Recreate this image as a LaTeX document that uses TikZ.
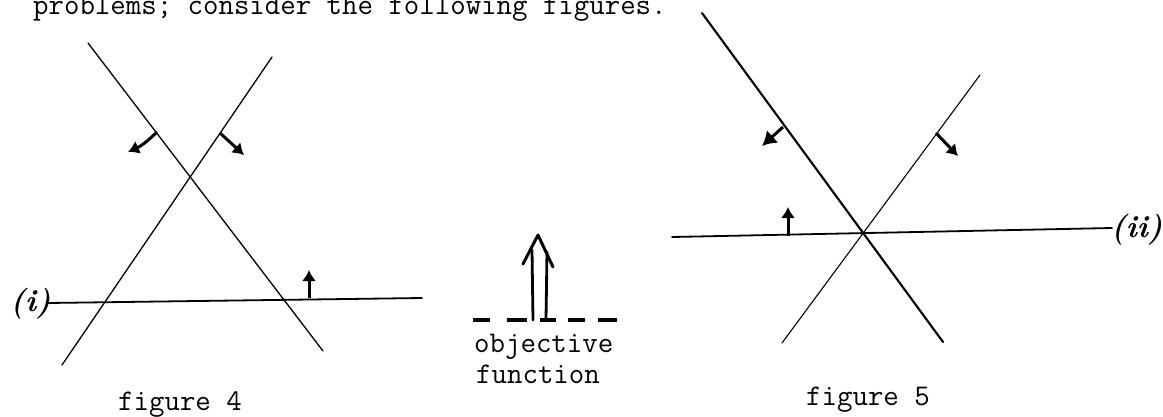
\documentclass[tikz,border=0pt]{standalone}
\usepackage{fontspec}
\usetikzlibrary{arrows.meta}
\begin{document}
\begin{tikzpicture}[x=1pt,y=-1pt,
  tt/.style={font=\fontsize{30}{36}\selectfont\ttfamily, inner sep=0pt, anchor=base west},
  hand/.style={font=\fontsize{31}{36}\selectfont\bfseries\itshape, inner sep=0pt},
  thinln/.style={line width=1.3pt, line cap=round},
  thickln/.style={line width=2.1pt, line cap=round},
  horizln/.style={line width=1.8pt, line cap=round},
  darr/.style={line width=3pt, -{Latex[length=11pt,width=14pt]}},
  bigarr/.style={line width=3pt, -{Latex[length=14pt,width=17pt]}}
]
\useasboundingbox (0,0) rectangle (1163,416);
\clip (0,0) rectangle (1163,416);

% header text (cut off at the top)
\node[tt] (top) at (33,14) {problems; consider the following figures.};

% ---------- figure 4 ----------
\coordinate (a1) at (88,43);   \coordinate (a2) at (323,351);
\coordinate (b1) at (272,57);  \coordinate (b2) at (62,365);
\coordinate (h1) at (48,303);  \coordinate (h2) at (422,298);
\draw[thinln] (a1) -- (a2);
\draw[thinln] (b1) -- (b2);
\draw[horizln] (h1) -- (h2);
\node[hand, anchor=base east] (li) at (51,311) {(i)};

\coordinate (p1) at (157,132); \coordinate (q1) at (128,152);
\coordinate (p2) at (220,133); \coordinate (q2) at (244,155);
\coordinate (p3) at (309,298); \coordinate (q3) at (309,270);
\draw[darr] (p1) to[bend left=10] (q1);
\draw[darr] (p2) -- (q2);
\draw[darr] (p3) -- (q3);

\node[tt] (cap4) at (118,410) {figure 4};

% ---------- objective function ----------
\coordinate (o1) at (533,320); \coordinate (o1t) at (532,250);
\coordinate (o2) at (546,320); \coordinate (o2t) at (547,252);
\coordinate (cl) at (523,264); \coordinate (ctip) at (538,235); \coordinate (cr) at (553,267);
\coordinate (ds) at (473,320); \coordinate (de) at (617,320);
\draw[line width=2.8pt, line cap=round] (o1) -- (o1t);
\draw[line width=2.8pt, line cap=round] (o2) -- (o2t);
\draw[line width=3pt, line cap=round, line join=round] (cl) -- (ctip) -- (cr);
\draw[line width=3.2pt, dash pattern=on 17pt off 17pt on 20pt off 13pt on 16pt off 12pt on 17pt off 13pt on 19pt] (ds) -- (de);
\node[tt] (obj1) at (474,352) {objective};
\node[tt] (obj2) at (476,383) {function};

% ---------- figure 5 ----------
\coordinate (c1) at (702,13);  \coordinate (c2) at (943,342);
\coordinate (d1) at (980,75);  \coordinate (d2) at (782,343);
\coordinate (g1) at (672,237); \coordinate (g2) at (1112,228);
\draw[thickln] (c1) -- (c2);
\draw[line width=1.1pt, line cap=round] (d1) -- (d2);
\draw[horizln] (g1) -- (g2);
\node[hand, anchor=base west] (lii) at (1111,237) {(ii)};

\coordinate (r1) at (783,127); \coordinate (s1) at (762,146);
\coordinate (r2) at (936,133); \coordinate (s2) at (958,156);
\coordinate (r3) at (788,236); \coordinate (s3) at (788,207);
\draw[bigarr] (r1) -- (s1);
\draw[darr] (r2) -- (s2);
\draw[darr] (r3) -- (s3);

\node[tt] (cap5) at (806,405) {figure 5};
\end{tikzpicture}
\end{document}
